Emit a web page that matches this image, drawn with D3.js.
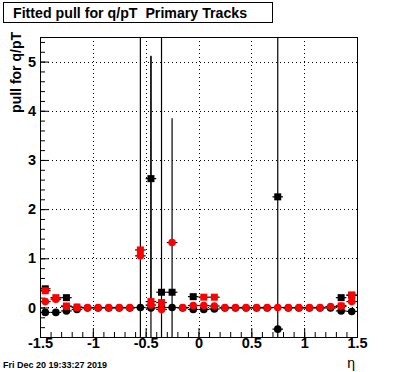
<!DOCTYPE html>
<html><head><meta charset="utf-8">
<script src="https://cdn.jsdelivr.net/npm/d3@7"></script>
<style>body{margin:0;background:#fff}svg{display:block}text{font-family:"Liberation Sans",Arial,sans-serif}</style>
</head><body><svg id="c" width="396" height="372"></svg>
<script>
const eta = [-1.45,-1.35,-1.25,-1.15,-1.05,-0.95,-0.85,-0.75,-0.65,-0.55,-0.45,-0.35,-0.25,-0.15,-0.05,0.05,0.15,0.25,0.35,0.45,0.55,0.65,0.75,0.85,0.95,1.05,1.15,1.25,1.35,1.45];
const blackCircle = [-0.10,-0.10,-0.07,-0.04,-0.01,-0.01,-0.01,-0.01,-0.01,0.00,-0.01,0.00,0.00,-0.01,-0.04,-0.04,-0.03,-0.01,-0.01,-0.01,-0.01,-0.01,-0.44,-0.01,-0.01,-0.01,-0.01,-0.01,-0.07,-0.08];
const blackCircleErr = [0,0,0,0,0,0,0,0,0,10,5.13,10,0,0,0,0,0,0,0,0,0,0,0,0,0,0,0,0,0,0];
const blackSquare = [0.38,null,0.20,null,null,null,null,null,null,null,2.62,0.31,0.31,null,0.22,null,null,null,null,null,null,null,2.25,null,null,null,null,null,0.20,0.25];
const blackSquareErr = [0,0,0,0,0,0,0,0,0,0,2.49,0,0,0,0,0,0,0,0,0,0,0,10,0,0,0,0,0,0,0];
const redSquare = [0.34,0.20,0.03,0.01,null,null,null,null,null,1.17,0.12,0.10,null,null,null,0.21,0.21,null,null,null,null,null,null,null,null,null,null,null,0.03,0.25];
const redCircle = [0.12,0.17,0.02,0.00,0.00,0.00,0.00,0.00,0.00,1.05,0.05,-0.04,1.32,0.00,0.04,0.04,0.03,0.00,0.00,0.00,0.00,0.00,0.00,0.00,0.00,0.00,0.00,0.02,0.03,0.12];
const redCircleErr = [0,0,0,0,0,0,0,0,0,0,0,0,2.53,0,0,0,0,0,0,0,0,0,0,0,0,0,0,0,0,0];
const xTicks = [-1.5,-1,-0.5,0,0.5,1,1.5];
const yTicks = [0,1,2,3,4,5];
const binHalf = 0.05;

const svg = d3.select("#c");
const L=40,R=357,T=37,B=337;
const x = d3.scaleLinear().domain([-1.5,1.5]).range([L,R]);
const y = d3.scaleLinear().domain([-0.6,5.5]).range([B,T]);

// title box
svg.append("rect").attr("x",3.5).attr("y",2.5).attr("width",269).attr("height",20).attr("fill","#fff").attr("stroke","#000");
svg.append("text").attr("x",13).attr("y",18).attr("font-size",14.2).attr("font-weight","bold").style("white-space","pre").text("Fitted pull for q/pT  Primary Tracks");

// grid
const g = svg.append("g");
g.selectAll(".gx").data(xTicks.filter(v=>v>-1.5&&v<1.5)).enter().append("line")
 .attr("x1",d=>Math.round(x(d))+0.5).attr("x2",d=>Math.round(x(d))+0.5).attr("y1",T).attr("y2",B)
 .attr("stroke","#000").attr("stroke-dasharray","1,3");
g.selectAll(".gy").data(yTicks).enter().append("line")
 .attr("y1",d=>Math.round(y(d))+0.5).attr("y2",d=>Math.round(y(d))+0.5).attr("x1",L).attr("x2",R)
 .attr("stroke","#000").attr("stroke-dasharray","1,3");

// axes
const fmt = d => String(d);
const xAxis = d3.axisBottom(x).tickValues(xTicks).tickSize(-9).tickPadding(1).tickFormat(fmt);
const xMinor = d3.axisBottom(x).tickValues(d3.range(-15,16).map(v=>v/10)).tickSize(-5).tickFormat("");
const yAxis = d3.axisLeft(y).tickValues(yTicks).tickSize(-9).tickPadding(4).tickFormat(fmt);
const yMinor = d3.axisLeft(y).tickValues(d3.range(-3,28).map(v=>v/5)).tickSize(-5).tickFormat("");
function style(sel){sel.select(".domain").remove();sel.selectAll("line").attr("stroke","#000");sel.selectAll("text").attr("font-size",14.5).attr("font-weight","bold").attr("font-family","Liberation Sans, Arial, sans-serif").attr("fill","#000");}
svg.append("g").attr("transform",`translate(0,${B})`).call(xMinor).call(style);
svg.append("g").attr("transform",`translate(0,${B})`).call(xAxis).call(style);
svg.append("g").attr("transform",`translate(${L},0)`).call(yMinor).call(style);
svg.append("g").attr("transform",`translate(${L},0)`).call(yAxis).call(style);

svg.append("rect").attr("x",L+0.5).attr("y",T+0.5).attr("width",R-L).attr("height",B-T).attr("fill","none").attr("stroke","#000");

// clip
svg.append("clipPath").attr("id","clip").append("rect").attr("x",L).attr("y",T).attr("width",R-L).attr("height",B-T);
const plot = svg.append("g").attr("clip-path","url(#clip)");

function series(vals, errs, color, shape){
  const pts = eta.map((e,i)=>({e, v:vals[i], err:errs?errs[i]:0})).filter(d=>d.v!==null);
  const gg = plot.append("g");
  gg.selectAll(".h").data(pts).enter().append("line")
   .attr("x1",d=>x(d.e-binHalf)).attr("x2",d=>x(d.e+binHalf)).attr("y1",d=>y(d.v)).attr("y2",d=>y(d.v))
   .attr("stroke","#000").attr("stroke-width",1.2);
  gg.selectAll(".v").data(pts.filter(d=>d.err>0)).enter().append("line")
   .attr("x1",d=>x(d.e)).attr("x2",d=>x(d.e)).attr("y1",d=>y(d.v+d.err)).attr("y2",d=>y(d.v-d.err))
   .attr("stroke","#000").attr("stroke-width",1.2);
  if(shape==="circle"){
    gg.selectAll(".m").data(pts).enter().append("circle").attr("cx",d=>x(d.e)).attr("cy",d=>y(d.v)).attr("r",3.8).attr("fill",color);
  } else {
    const s=7;
    gg.selectAll(".m").data(pts).enter().append("rect").attr("x",d=>x(d.e)-s/2).attr("y",d=>y(d.v)-s/2).attr("width",s).attr("height",s).attr("fill",color);
  }
}
series(blackCircle, blackCircleErr, "#000", "circle");
series(blackSquare, blackSquareErr, "#000", "square");
series(redSquare, null, "#ff0000", "square");
series(redCircle, redCircleErr, "#ff0000", "circle");

// axis titles
svg.append("text").attr("transform","translate(21,32) rotate(-90)").attr("text-anchor","end").attr("font-size",14).attr("font-weight","bold").text("pull for q/pT");
svg.append("text").attr("x",355).attr("y",368).attr("text-anchor","end").attr("font-size",14).text("η");
svg.append("text").attr("x",3).attr("y",368).attr("font-size",9).attr("font-weight","bold").text("Fri Dec 20 19:33:27 2019");
</script></body></html>
